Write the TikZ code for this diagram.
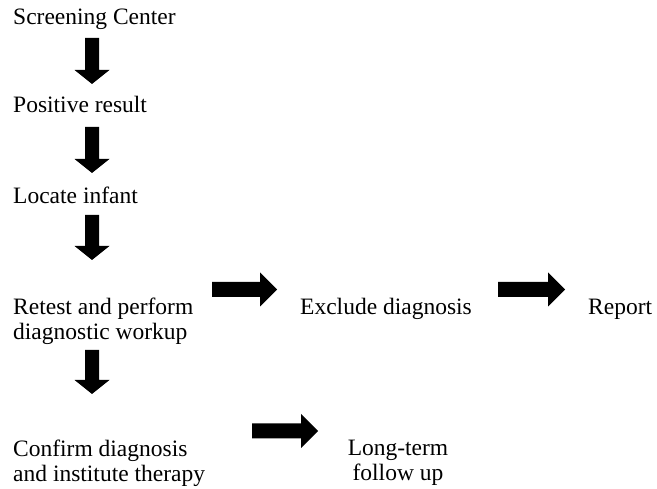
\documentclass[tikz,border=0pt]{standalone}
\usepackage{fontspec}
\setmainfont{Liberation Serif}
\usetikzlibrary{calc}
\begin{document}
\begin{tikzpicture}[x=1pt,y=-1pt,
  lbl/.style={inner sep=0pt,anchor=base west,align=left,font=\fontsize{23.5}{25}\selectfont},
  vfat/.style={to path={let \p1=(\tikztostart), \p2=(\tikztotarget) in
     (\x1-7pt,\y1) -- (\x1+7pt,\y1) -- (\x1+7pt,\y2+14pt) -- (\x1+17.5pt,\y2+14pt)
     -- (\x2,\y2) -- (\x1-17.5pt,\y2+14pt) -- (\x1-7pt,\y2+14pt) -- cycle}},
  hfat/.style={to path={let \p1=(\tikztostart), \p2=(\tikztotarget) in
     (\x1,\y1+7.5pt) -- (\x1,\y1-7.5pt) -- (\x2-17pt,\y1-7.5pt) -- (\x2-17pt,\y1-17pt)
     -- (\x2,\y2) -- (\x2-17pt,\y1+17pt) -- (\x2-17pt,\y1+7.5pt) -- cycle}}]
\useasboundingbox (0,0) rectangle (657,489);
% text nodes (multi-line nodes are placed by the baseline of their last line)
\node[lbl] (screen) at (13,25) {Screening Center};
\node[lbl] (pos) at (13,113) {Positive result};
\node[lbl] (loc) at (13,204) {Locate infant};
\node[lbl] (retest) at (13,340) {Retest and perform\\diagnostic workup};
\node[lbl] (confirm) at (13,482) {Confirm diagnosis\\and institute therapy};
\node[lbl] (excl) at (300,315) {Exclude diagnosis};
\node[lbl] (report) at (588,315) {Report};
\node[lbl,anchor=base,align=center] (long) at (398,481) {Long-term\\follow up};
% arrow end points
\coordinate (a1s) at (92,38);  \coordinate (a1e) at (92,84);
\coordinate (a2s) at (92,127); \coordinate (a2e) at (92,173);
\coordinate (a3s) at (92,215); \coordinate (a3e) at (92,260);
\coordinate (a4s) at (92,350); \coordinate (a4e) at (92,394);
\coordinate (h1s) at (212,289.5); \coordinate (h1e) at (277,289.5);
\coordinate (h2s) at (498,289.5); \coordinate (h2e) at (565,289.5);
\coordinate (h3s) at (252,431);   \coordinate (h3e) at (318,431);
% block arrows
\fill (a1s) to[vfat] (a1e);
\fill (a2s) to[vfat] (a2e);
\fill (a3s) to[vfat] (a3e);
\fill (a4s) to[vfat] (a4e);
\fill (h1s) to[hfat] (h1e);
\fill (h2s) to[hfat] (h2e);
\fill (h3s) to[hfat] (h3e);
\end{tikzpicture}
\end{document}
